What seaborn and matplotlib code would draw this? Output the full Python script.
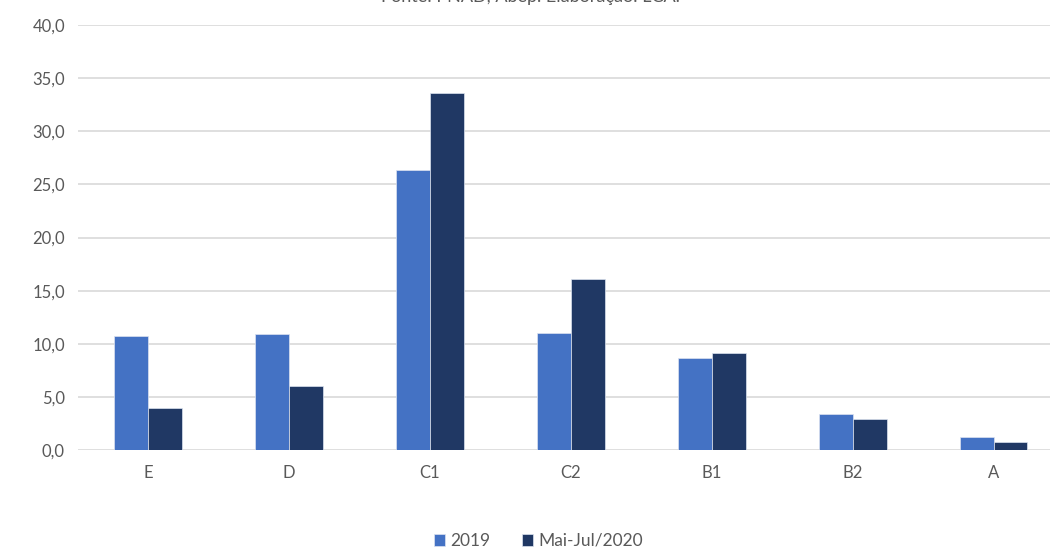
import matplotlib
matplotlib.use("Agg")
import matplotlib.pyplot as plt
import seaborn as sns
import pandas as pd
from matplotlib.ticker import FuncFormatter

# classes sociais
classes = ['E', 'D', 'C1', 'C2', 'B1', 'B2', 'A']
v2019 = [10.7, 10.9, 26.4, 11.0, 8.7, 3.4, 1.2]
v2020 = [4.0, 6.0, 33.6, 16.1, 9.1, 2.9, 0.8]
series = ['2019', 'Mai-Jul/2020']
colors = ['#4472C4', '#203864']

df = pd.DataFrame({
    'classe': classes * 2,
    'valor': v2019 + v2020,
    'serie': [series[0]] * len(classes) + [series[1]] * len(classes),
})

sns.set_theme(style='white')
plt.rcParams['font.family'] = ['Lato', 'DejaVu Sans']

fig = plt.figure(figsize=(10.5, 5.5), dpi=100)
ax = fig.add_axes([77.5 / 1050, 100 / 550, 1 - 77.5 / 1050, 425 / 550])

sns.barplot(data=df, x='classe', y='valor', hue='serie', order=classes,
            hue_order=series, palette=colors, width=0.48, ax=ax,
            edgecolor='#DCE3F0', linewidth=0.5, saturation=1)

ax.set_ylim(0, 40)
ax.set_xlim(-0.5, 6.4)
ax.set_yticks(range(0, 41, 5))
ax.yaxis.set_major_formatter(FuncFormatter(lambda v, p: f'{v:.1f}'.replace('.', ',')))
ax.yaxis.grid(True, color='#D9D9D9', linewidth=1.2)
ax.set_axisbelow(True)
for s in ax.spines.values():
    s.set_visible(False)
ax.set_xlabel('')
ax.set_ylabel('')
ax.tick_params(axis='both', colors='#595959', labelsize=12, length=0)
ax.tick_params(axis='x', pad=11)
ax.tick_params(axis='y', pad=9)

ax.legend(loc='center', bbox_to_anchor=(0.474, -0.214), ncol=2, frameon=False,
          fontsize=12.5, handlelength=0.65, handleheight=0.65, handletextpad=0.3,
          columnspacing=1.8, labelcolor='#595959')

# fonte, cortada no topo como no original
fig.text(0.505, 1 - 2 / 550, 'Fonte: PNAD, Abep. Elaboração: LCA.', ha='center',
         va='baseline', fontsize=13, color='#595959')

fig.savefig('out.png', dpi=100)
